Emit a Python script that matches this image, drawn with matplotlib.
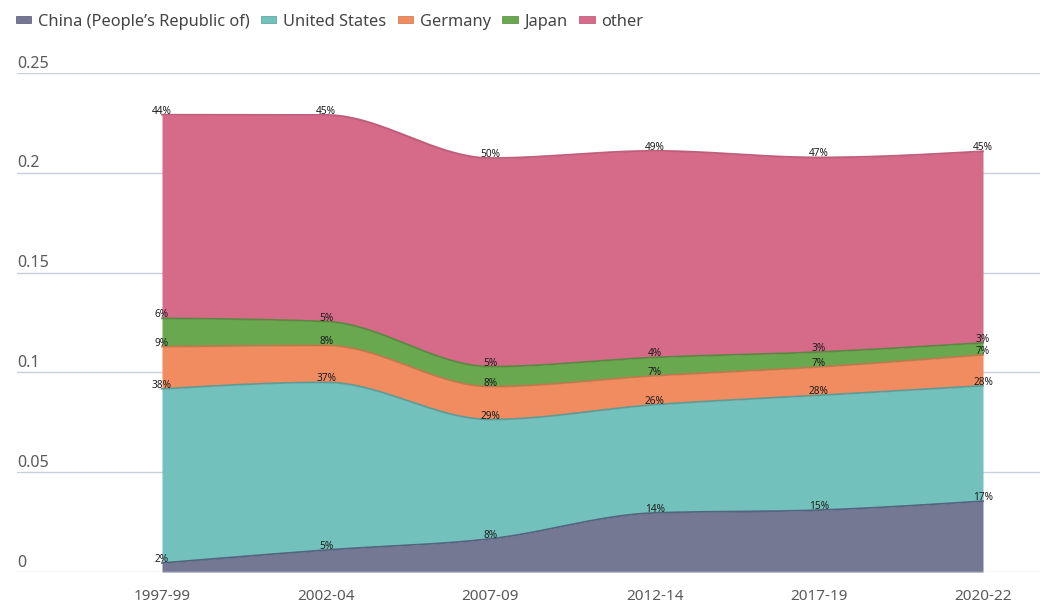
import numpy as np
import matplotlib
matplotlib.use("Agg")
import matplotlib.pyplot as plt
from matplotlib.patches import Patch
from matplotlib.transforms import blended_transform_factory, offset_copy

plt.rcParams['font.family'] = ['Noto Sans', 'DejaVu Sans']

periods = ["1997-99", "2002-04", "2007-09", "2012-14", "2017-19", "2020-22"]
series_names = ["China (People\u2019s Republic of)", "United States", "Germany", "Japan", "other"]

china = [0.0045, 0.0110, 0.0166, 0.0296, 0.0310, 0.0355]
united_states = [0.0872, 0.0840, 0.0598, 0.0542, 0.0575, 0.0578]
germany = [0.0212, 0.0185, 0.0165, 0.0145, 0.0142, 0.0155]
japan = [0.0142, 0.0120, 0.0100, 0.0092, 0.0075, 0.0060]
other = [0.1020, 0.1035, 0.1045, 0.1035, 0.0975, 0.0960]

china_pct = ["2%", "5%", "8%", "14%", "15%", "17%"]
us_pct = ["38%", "37%", "29%", "26%", "28%", "28%"]
germany_pct = ["9%", "8%", "8%", "7%", "7%", "7%"]
japan_pct = ["6%", "5%", "5%", "4%", "3%", "3%"]
other_pct = ["44%", "45%", "50%", "49%", "47%", "45%"]

yticks = [0, 0.05, 0.1, 0.15, 0.2, 0.25]
ytick_labels = ["0", "0.05", "0.1", "0.15", "0.2", "0.25"]

fills = ["#757893", "#73c1bc", "#f08c5f", "#69a84e", "#d56a89"]
strokes = ["#4f5a78", "#4f9d9a", "#c9734c", "#4e8a3a", "#b8506f"]


def monotone_x(x, y, n=40):
    x = np.asarray(x, float); y = np.asarray(y, float)
    h = np.diff(x); s = np.diff(y) / h
    m = len(x)
    t = np.zeros(m)
    for i in range(1, m - 1):
        h0, h1 = h[i - 1], h[i]
        s0, s1 = s[i - 1], s[i]
        p = (s0 * h1 + s1 * h0) / (h0 + h1)
        t[i] = (np.sign(s0) + np.sign(s1)) * min(abs(s0), abs(s1), 0.5 * abs(p))
    t[0] = (3 * s[0] - t[1]) / 2 if m > 2 else s[0]
    t[-1] = (3 * s[-1] - t[-2]) / 2 if m > 2 else s[-1]
    xs, ys = [], []
    for i in range(m - 1):
        u = np.linspace(0, 1, n, endpoint=(i == m - 2))
        dx = h[i]
        h00 = 2 * u**3 - 3 * u**2 + 1
        h10 = u**3 - 2 * u**2 + u
        h01 = -2 * u**3 + 3 * u**2
        h11 = u**3 - u**2
        xs.append(x[i] + u * dx)
        ys.append(h00 * y[i] + h10 * dx * t[i] + h01 * y[i + 1] + h11 * dx * t[i + 1])
    return np.concatenate(xs), np.concatenate(ys)


W, H = 1045, 608
fig = plt.figure(figsize=(W / 100, H / 100), dpi=100)
left_px, right_px, top_px, bot_px = 17, 1040, 73, 572
ax = fig.add_axes([left_px / W, 1 - bot_px / H, (right_px - left_px) / W, (bot_px - top_px) / H])

xpos = np.arange(len(periods))
spacing = (983 - 162) / 5.0
ax.set_xlim((left_px - 162) / spacing, (right_px - 162) / spacing)
ax.set_ylim(0, 0.25)

data = [china, united_states, germany, japan, other]
pcts = [china_pct, us_pct, germany_pct, japan_pct, other_pct]
cum = np.cumsum(np.array(data), axis=0)

prev_y = None
for k in range(len(data)):
    xs, top = monotone_x(xpos, cum[k])
    bottom = np.zeros_like(top) if k == 0 else prev_y
    ax.fill_between(xs, bottom, top, color=fills[k], lw=0, zorder=2)
    ax.plot(xs, top, color=strokes[k], lw=1.3, zorder=3, alpha=0.9)
    prev_y = top

for yt in yticks:
    ax.axhline(yt, color="#c8d0dc", lw=1.0, zorder=1 if yt > 0 else 4)

for spine in ax.spines.values():
    spine.set_visible(False)
ax.set_xticks([]); ax.set_yticks([])

tr = blended_transform_factory(ax.transAxes, ax.transData)
tr_off = offset_copy(tr, fig=fig, x=0, y=1, units='points')
for yt, lab in zip(yticks, ytick_labels):
    ax.text(0, yt, lab, transform=tr_off, ha='left', va='bottom',
            fontsize=11.5, color="#5a5a5a")

trx = blended_transform_factory(ax.transData, ax.transAxes)
trx_off = offset_copy(trx, fig=fig, x=0, y=-18, units='points')
for xi, lab in zip(xpos, periods):
    ax.text(xi, 0, lab, transform=trx_off, ha='center', va='center',
            fontsize=11, color="#5a5a5a")

for k in range(len(data)):
    for xi in xpos:
        ax.annotate(pcts[k][xi], (xi, cum[k][xi]), xytext=(0, 2.5),
                    textcoords='offset points', ha='center', va='center',
                    fontsize=7.3, color="#1e1e1e", zorder=6)

handles = [Patch(facecolor=fills[k], edgecolor=strokes[k], lw=0.5) for k in range(len(data))]
fig.legend(handles, series_names, loc='upper left', bbox_to_anchor=(9 / W, 1 - 7 / H),
           borderaxespad=0, borderpad=0.4,
           ncol=5, frameon=False, fontsize=11.8, handlelength=0.95, handleheight=0.3,
           handletextpad=0.4, columnspacing=0.7, labelcolor="#444444")

fig.savefig("out.png", dpi=100)
